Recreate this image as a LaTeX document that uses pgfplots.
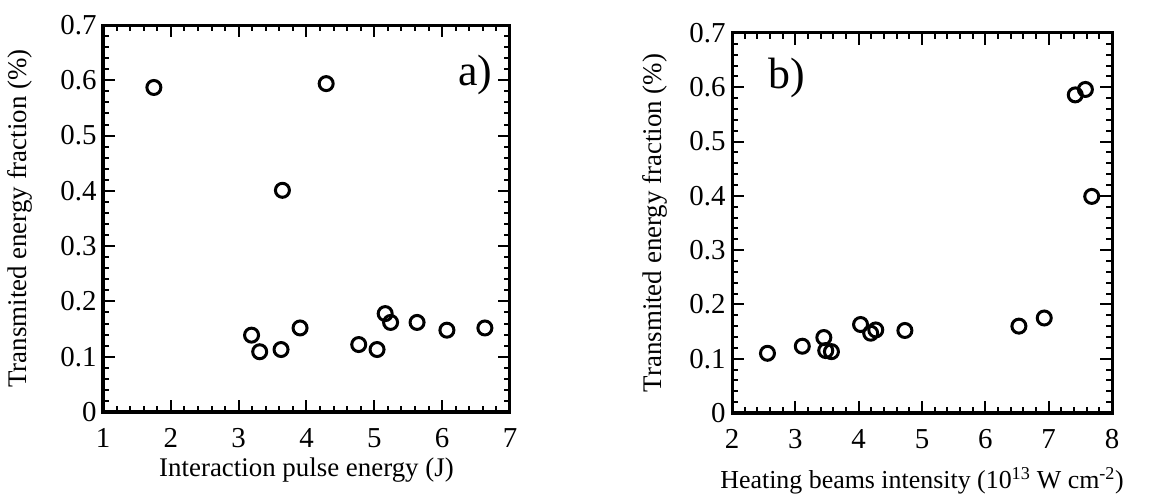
\documentclass[border=0pt]{standalone}
\usepackage{fontspec}
\setmainfont{Liberation Serif}
\usepackage{pgfplots}
\usepackage{pgfplotstable}
\pgfplotsset{compat=1.18}

% transmitted fraction vs pulse energy
\pgfplotstableread{
x y
1.75 0.587
4.29 0.594
3.645 0.401
3.19 0.139
3.31 0.109
3.625 0.113
3.905 0.152
4.77 0.122
5.04 0.113
5.16 0.178
5.24 0.162
5.63 0.162
6.07 0.148
6.63 0.152
}\panela

% transmitted fraction vs heating intensity
\pgfplotstableread{
x y
2.56 0.110
3.11 0.123
3.45 0.139
3.48 0.115
3.57 0.113
4.03 0.163
4.19 0.147
4.27 0.153
4.73 0.152
6.53 0.160
6.93 0.175
7.42 0.586
7.58 0.596
7.68 0.399
}\panelb

\begin{document}
\begin{tikzpicture}
\useasboundingbox (0,0) rectangle (1159bp,494bp);
\pgfplotsset{
 panel/.style={
  scale only axis,
  axis line style={line width=3bp},
  every tick/.style={line width=2bp, black},
  major tick length=12bp, minor tick length=6bp,
  tick align=inside,
  ymin=0, ymax=0.7,
  ytick={0,0.1,0.2,0.3,0.4,0.5,0.6,0.7},
  minor x tick num=4, minor y tick num=4,
  scaled ticks=false,
  /pgf/number format/assume math mode=true,
  yticklabel style={/pgf/number format/fixed, /pgf/number format/precision=1, xshift=-3bp},
  xticklabel style={yshift=-13bp},
  tick label style={font=\fontsize{29}{32}\selectfont},
  label style={font=\fontsize{27}{30}\selectfont},
 },
 pts/.style={only marks, mark=o, black, mark size=7bp, mark options={line width=3bp}},
}
\begin{axis}[panel, at={(103bp,82bp)}, width=407bp, height=387bp,
  xmin=1, xmax=7, xtick={1,2,3,4,5,6,7},
  xlabel={Interaction pulse energy (J)},
  ylabel={Transmited energy fraction (\%)},
  xlabel style={at={(axis description cs:0.5,-0.150)}, anchor=center},
  ylabel style={at={(axis description cs:-0.205,0.5)}, anchor=center},
]
\addplot[pts] table {\panela};
\node[font=\fontsize{44}{48}\selectfont] at (axis cs:6.49,0.61) {a)};
\end{axis}
\begin{axis}[panel, at={(732bp,81bp)}, width=380bp, height=380bp,
  xmin=2, xmax=8, xtick={2,3,4,5,6,7,8},
  xlabel={Heating beams intensity (10\textsuperscript{13} W cm\textsuperscript{-2})},
  ylabel={Transmited energy fraction (\%)},
  xlabel style={at={(axis description cs:0.5,-0.178)}, anchor=center, font=\fontsize{26}{30}\selectfont},
  ylabel style={at={(axis description cs:-0.203,0.5)}, anchor=center},
]
\addplot[pts] table {\panelb};
\node[font=\fontsize{44}{48}\selectfont] at (axis cs:2.87,0.618) {b)};
\end{axis}
\end{tikzpicture}
\end{document}
